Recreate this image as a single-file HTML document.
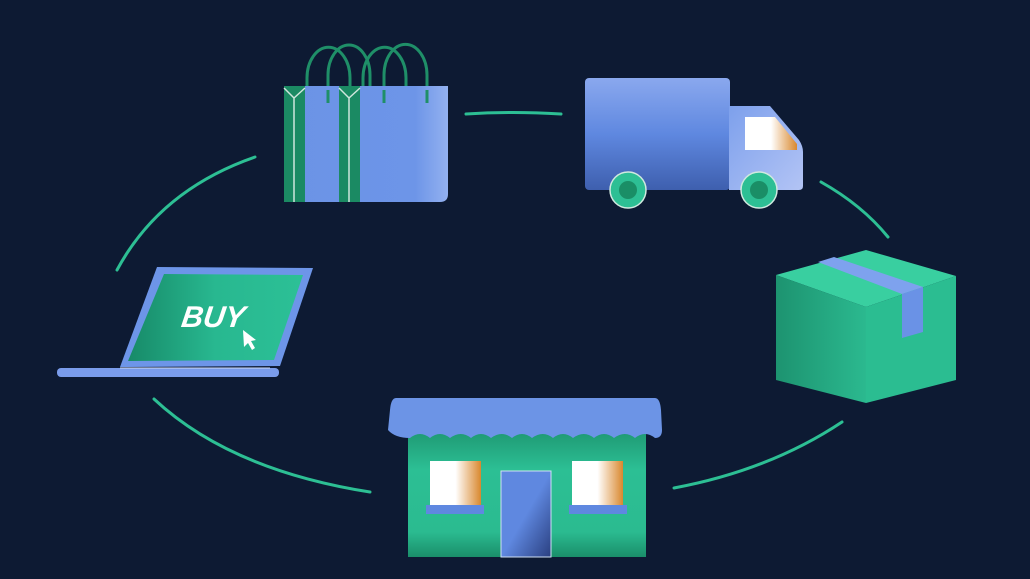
<!DOCTYPE html>
<html><head><meta charset="utf-8"><style>
html,body{margin:0;padding:0;background:#0d1a33;}
svg{display:block}
</style></head><body>
<svg width="1030" height="579" viewBox="0 0 1030 579" xmlns="http://www.w3.org/2000/svg">
<defs>
<linearGradient id="blue" x1="0" y1="0" x2="1" y2="0"><stop offset="0" stop-color="#6b93e6"/><stop offset="0.8" stop-color="#6d95e8"/><stop offset="1" stop-color="#93b1f0"/></linearGradient>
<linearGradient id="truck" x1="0" y1="0" x2="0" y2="1"><stop offset="0" stop-color="#8aa8ee"/><stop offset="0.5" stop-color="#5f88e0"/><stop offset="1" stop-color="#3e5fae"/></linearGradient>
<linearGradient id="cab" x1="0" y1="0" x2="1" y2="1"><stop offset="0" stop-color="#7da0ec"/><stop offset="1" stop-color="#b3c4f5"/></linearGradient>
<linearGradient id="win" x1="0" y1="0" x2="1" y2="0"><stop offset="0.5" stop-color="#fff"/><stop offset="1" stop-color="#d9882e"/></linearGradient>
<linearGradient id="screen" x1="0" y1="0" x2="1" y2="0"><stop offset="0" stop-color="#178a68"/><stop offset="0.5" stop-color="#28b890"/><stop offset="1" stop-color="#2cc096"/></linearGradient>
<linearGradient id="shop" x1="0" y1="0" x2="0" y2="1"><stop offset="0" stop-color="#1f9a74"/><stop offset="0.3" stop-color="#2cbf94"/><stop offset="0.8" stop-color="#2bbb90"/><stop offset="1" stop-color="#1a8e6a"/></linearGradient>
<linearGradient id="door" x1="0" y1="0" x2="1" y2="1"><stop offset="0.5" stop-color="#5f88e0"/><stop offset="1" stop-color="#2a3f80"/></linearGradient>
<linearGradient id="boxl" x1="0" y1="0" x2="1" y2="0"><stop offset="0" stop-color="#1d9370"/><stop offset="1" stop-color="#2bb98f"/></linearGradient>
</defs>
<rect width="1030" height="579" fill="#0d1a33"/>
<!-- connectors -->
<g fill="none" stroke="#2dbf94" stroke-width="3" stroke-linecap="round">
<path d="M466 114 Q512 111 561 114"/>
<path d="M255 157 Q160 190 117 270"/>
<path d="M821 182 Q862 205 888 237"/>
<path d="M154 399 Q230 470 370 492"/>
<path d="M674 488 Q770 470 842 422"/>
</g>
<!-- bag -->
<g fill="none" stroke="#1f8f68" stroke-width="3">
<path d="M307 88 V78 A21 30 0 0 1 350 78 V88"/>
<path d="M328 103 V75 A21 30 0 0 1 370 75 V88"/>
<path d="M363 88 V78 A21 30 0 0 1 406 78 V88"/>
<path d="M384 103 V75 A21 30 0 0 1 427 75 V103"/>
</g>
<path d="M284 86 H448 V194 Q448 202 440 202 H284 Z" fill="url(#blue)"/>
<rect x="284" y="86" width="21" height="116" fill="#1b8a63"/>
<rect x="339" y="86" width="21" height="116" fill="#1b8a63"/>
<g stroke="#cfe6dc" stroke-width="1.5" fill="none"><path d="M284 88 L294 98 L305 88 M294 98 V202"/><path d="M339 88 L349 98 L360 88 M349 98 V202"/></g>
<g fill="none" stroke="#1f8f68" stroke-width="3"><path d="M328 90 V103"/><path d="M384 90 V103"/><path d="M427 90 V103"/></g>
<!-- truck -->
<rect x="585" y="78" width="145" height="112" rx="4" fill="url(#truck)"/>
<path d="M729 106 H770 L799 140 Q803 146 803 152 V186 Q803 190 799 190 H729 Z" fill="url(#cab)"/>
<path d="M745 117 H775 L797 144 V150 H745 Z" fill="url(#win)"/>
<circle cx="628" cy="190" r="18" fill="#2dbf94" stroke="#cfe9df" stroke-width="1.5"/>
<circle cx="628" cy="190" r="9" fill="#1a8e66"/>
<circle cx="759" cy="190" r="18" fill="#2dbf94" stroke="#cfe9df" stroke-width="1.5"/>
<circle cx="759" cy="190" r="9" fill="#1a8e66"/>
<!-- laptop -->
<path d="M157 267 L313 268 L280 366 L120 367 Z" fill="#6d95e8"/>
<path d="M164 274 L303 275 L274 360 L128 361 Z" fill="url(#screen)"/>
<rect x="57" y="368" width="222" height="9" rx="4" fill="#7a9ceb"/>
<line x1="120" y1="368" x2="270" y2="368" stroke="#cfdcf8" stroke-width="1"/>
<text x="213" y="327" font-family="Liberation Sans, sans-serif" font-size="30" font-weight="bold" font-style="italic" fill="#fff" text-anchor="middle" transform="skewX(-8) translate(45 0)">BUY</text>
<path d="M243 330 L244 347 L248 343 L252 350 L255 348 L251 341 L256 340 Z" fill="#fff"/>
<!-- box -->
<path d="M866 250 L956 276 L866 307 L776 275 Z" fill="#39cfa0"/>
<path d="M776 275 L866 307 L866 403 L776 380 Z" fill="url(#boxl)"/>
<path d="M866 307 L956 276 L956 380 L866 403 Z" fill="#2bbd91"/>
<path d="M818 262 L834 257 L923 287 L902 294 Z" fill="#7ea2ee"/>
<path d="M902 294 L923 287 L923 332 L902 338 Z" fill="#6a92e6"/>
<!-- shop -->
<rect x="408" y="432" width="238" height="125" fill="url(#shop)"/>
<path d="M396 398 H655 Q660 398 661 410 L662 430 Q662 438 655 438 Q645 430 635 438 Q625 430 614 438 Q604 430 594 438 Q584 430 573 438 Q563 430 553 438 Q543 430 532 438 Q522 430 512 438 Q502 430 491 438 Q481 430 471 438 Q461 430 450 438 Q440 430 430 438 Q420 430 410 438 Q395 438 388 430 L390 410 Q391 398 396 398 Z" fill="#6c94e6"/>
<rect x="430" y="461" width="51" height="44" fill="url(#win)"/>
<rect x="426" y="505" width="58" height="9" fill="#5f88e0"/>
<rect x="572" y="461" width="51" height="44" fill="url(#win)"/>
<rect x="569" y="505" width="58" height="9" fill="#5f88e0"/>
<rect x="501" y="471" width="50" height="86" fill="url(#door)" stroke="#cfe0f5" stroke-width="1"/>
</svg>
</body></html>
